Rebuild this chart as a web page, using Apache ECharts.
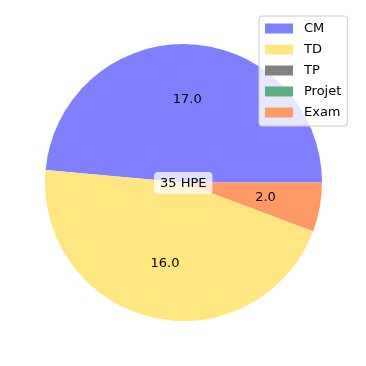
<!DOCTYPE html>
<html><head><meta charset="utf-8">
<script src="https://cdn.jsdelivr.net/npm/echarts@6/dist/echarts.min.js"></script>
<style>html,body{margin:0;padding:0;background:#fff}#c{width:366px;height:366px}</style>
</head><body><div id="c"></div>
<script>
const categories = ['CM', 'TD', 'TP', 'Projet', 'Exam'];
const values = [17, 16, 0, 0, 2];
const colors = ['#8080ff', '#ffe680', '#808080', '#5aae80', '#ff9966'];
const centerText = '35 HPE';

const R = 138.5, cx = 183.5, cy = 182.5;
const font = 'DejaVu Sans';
const data = categories.map((c, i) => ({ name: c, value: values[i], itemStyle: { color: colors[i] } }));
const labelData = categories.map((c, i) => ({
  name: c, value: values[i],
  label: { show: values[i] > 0 }
}));

const chart = echarts.init(document.getElementById('c'), null, { renderer: 'canvas' });
chart.setOption({
  animation: false,
  legend: {
    data: categories,
    orient: 'vertical',
    left: 259, top: 16,
    padding: [6, 6, 7, 6],
    itemWidth: 28, itemHeight: 10, itemGap: 8,
    icon: 'rect',
    backgroundColor: 'rgba(255,255,255,0.8)',
    borderColor: '#cccccc', borderWidth: 1, borderRadius: 3,
    textStyle: { fontFamily: font, fontSize: 13, color: '#000', lineHeight: 13, padding: [0, 0, 0, 6] }
  },
  series: [{
    type: 'pie',
    center: [cx, cy], radius: [0, R],
    startAngle: 0, clockwise: false,
    data: data,
    label: { show: false }, labelLine: { show: false },
    itemStyle: { borderWidth: 0 },
    emphasis: { disabled: true }
  }, {
    type: 'pie', silent: true,
    center: [cx, cy], radius: [R * 0.16, R],
    startAngle: 0, clockwise: false,
    data: labelData,
    itemStyle: { color: 'rgba(0,0,0,0)', borderWidth: 0 },
    label: { position: 'inside', fontFamily: font, fontSize: 13, color: '#000',
      formatter: p => p.value.toFixed(1) },
    labelLine: { show: false },
    emphasis: { disabled: true }
  }],
  graphic: [{
    type: 'text', left: cx - 29.5, top: cy - 10.5, z: 100, zlevel: 0,
    style: {
      text: centerText, font: '13px "DejaVu Sans"', fill: '#000',
      backgroundColor: 'rgba(255,255,255,0.75)', borderRadius: 4,
      padding: [5, 6, 4, 6]
    }
  }]
});
</script></body></html>
